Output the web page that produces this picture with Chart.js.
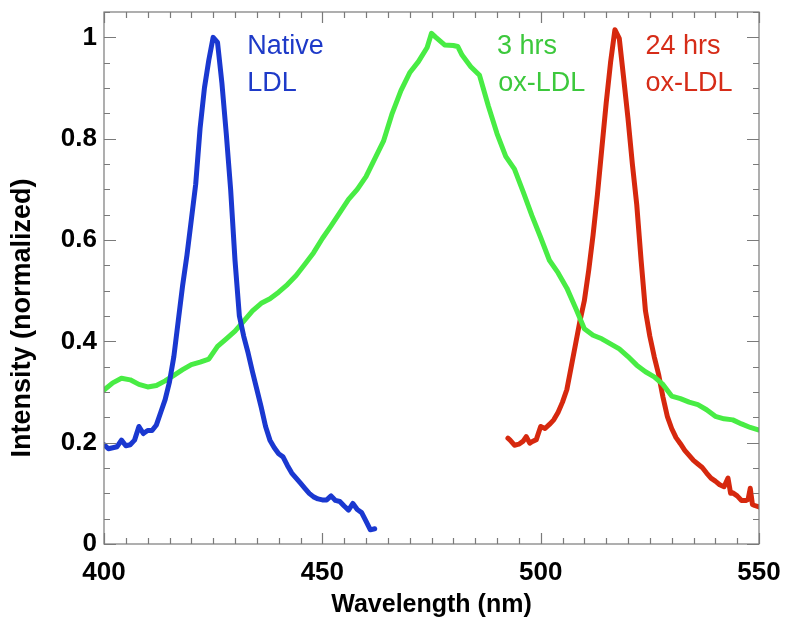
<!DOCTYPE html>
<html>
<head>
<meta charset="utf-8">
<script src="https://cdn.jsdelivr.net/npm/chart.js@4.4.1/dist/chart.umd.min.js"></script>
<style>
  body { margin: 0; background: #fff; }
  #wrap { width: 787px; height: 634px; }
</style>
</head>
<body>
<div id="wrap"><canvas id="spectraChart"></canvas></div>
<script>
// Native LDL
const nativeNm = [400, 401, 402, 403, 404, 405, 406, 407, 408, 409, 410, 411, 412, 413, 414, 415, 416, 417, 418, 419,
  420, 421, 422, 423, 424, 425, 426, 427, 428, 429, 430, 431, 432, 433, 434, 435, 436, 437, 438, 439,
  440, 441, 442, 443, 444, 445, 446, 447, 448, 449, 450, 451, 452, 453, 454, 455, 456, 457, 458, 459,
  460, 461, 462];
const nativeInt = [0.196, 0.188, 0.19, 0.192, 0.205, 0.194, 0.196, 0.205, 0.232, 0.218, 0.224, 0.224, 0.235, 0.26, 0.285, 0.32, 0.37, 0.44, 0.51, 0.57,
  0.64, 0.71, 0.82, 0.9, 0.955, 1.0, 0.99, 0.91, 0.81, 0.7, 0.56, 0.45, 0.41, 0.377, 0.34, 0.305, 0.27, 0.232, 0.205, 0.19,
  0.178, 0.172, 0.155, 0.14, 0.13, 0.12, 0.11, 0.1, 0.093, 0.089, 0.087, 0.087, 0.095, 0.086, 0.084, 0.075, 0.067, 0.08, 0.068, 0.062,
  0.045, 0.028, 0.03];

// 3 hrs ox-LDL
const ox3Nm = [400, 402, 404, 406, 408, 410, 412, 414, 416, 418, 420, 422, 424, 426, 428, 430, 432, 434, 436, 438,
  440, 442, 444, 446, 448, 450, 452, 454, 456, 458, 460, 462, 464, 466, 468, 470, 472, 474, 475, 476,
  478, 480, 481, 482, 484, 486, 488, 490, 492, 494, 496, 498, 500, 502, 504, 506, 508, 510, 512, 514,
  516, 518, 520, 522, 524, 526, 528, 530, 532, 534, 536, 538, 540, 542, 544, 546, 548, 550];
const ox3Int = [0.304, 0.318, 0.327, 0.324, 0.315, 0.31, 0.313, 0.322, 0.333, 0.344, 0.354, 0.359, 0.365, 0.39, 0.405, 0.42, 0.44, 0.46, 0.475, 0.484,
  0.497, 0.512, 0.53, 0.552, 0.575, 0.603, 0.628, 0.654, 0.68, 0.7, 0.725, 0.76, 0.795, 0.85, 0.895, 0.93, 0.952, 0.98, 1.008, 1.0,
  0.985, 0.984, 0.982, 0.965, 0.942, 0.925, 0.865, 0.81, 0.765, 0.74, 0.695, 0.648, 0.605, 0.56, 0.535, 0.505, 0.466, 0.425, 0.412, 0.405,
  0.395, 0.385, 0.37, 0.353, 0.34, 0.33, 0.315, 0.292, 0.287, 0.28, 0.275, 0.265, 0.252, 0.247, 0.245, 0.237, 0.23, 0.225];

// 24 hrs ox-LDL
const ox24Nm = [492.5, 493, 494, 495, 496, 496.7, 497.5, 498, 499, 500, 501, 502, 503, 504, 505, 506, 507, 508, 509, 510,
  511, 512, 513, 514, 515, 516, 517, 518, 519, 520, 521, 522, 523, 524, 525, 526, 527, 528, 529, 530,
  531, 532, 533, 534, 535, 536, 537, 538, 539, 540, 541, 542, 542.9, 543.5, 544, 545, 546, 547, 547.5, 548,
  548.5, 549, 550];
const ox24Int = [0.209, 0.205, 0.195, 0.197, 0.203, 0.212, 0.199, 0.202, 0.206, 0.232, 0.228, 0.236, 0.245, 0.26, 0.28, 0.305, 0.35, 0.395, 0.44, 0.48,
  0.54, 0.61, 0.69, 0.78, 0.87, 0.95, 1.015, 0.998, 0.92, 0.84, 0.75, 0.67, 0.56, 0.46, 0.41, 0.37, 0.335, 0.29, 0.252, 0.228,
  0.21, 0.198, 0.185, 0.175, 0.165, 0.158, 0.151, 0.14, 0.13, 0.124, 0.117, 0.113, 0.13, 0.1, 0.101, 0.095, 0.086, 0.086, 0.088, 0.11,
  0.078, 0.076, 0.073];

const yTickLabels = ['0', '0.2', '0.4', '0.6', '0.8', '1'];

const BLUE = 'rgb(26, 56, 208)';
const GREEN = 'rgb(72, 236, 68)';
const RED = 'rgb(214, 40, 14)';
const FONT = '"Liberation Sans", Arial, sans-serif';

function toPoints(xs, ys) {
    return xs.map((x, i) => ({ x: x, y: ys[i] }));
}

// curve labels, placed in data coordinates
const curveLabels = [
    { text: 'Native', x: 432.8, y: 0.967, color: 'rgb(30, 58, 200)' },
    { text: 'LDL', x: 432.8, y: 0.895, color: 'rgb(30, 58, 200)' },
    { text: '3 hrs', x: 490.0, y: 0.967, color: 'rgb(60, 200, 60)' },
    { text: 'ox-LDL', x: 490.3, y: 0.895, color: 'rgb(60, 200, 60)' },
    { text: '24 hrs', x: 524.0, y: 0.967, color: 'rgb(214, 44, 24)' },
    { text: 'ox-LDL', x: 524.0, y: 0.895, color: 'rgb(214, 44, 24)' }
];

// frame, inner ticks on all four sides, curve labels and y title
const framePlugin = {
    id: 'frame',
    afterDatasetsDraw(chart) {
        const ctx = chart.ctx;
        const xs = chart.scales.x, ys = chart.scales.y;
        const a = chart.chartArea;
        ctx.save();
        ctx.strokeStyle = '#7a7a7a';
        ctx.lineWidth = 1.2;
        ctx.strokeRect(a.left, a.top, a.right - a.left, a.bottom - a.top);

        ctx.beginPath();
        for (let v = 400; v <= 550; v += 5) {
            const px = Math.round(xs.getPixelForValue(v)) + 0.5;
            const len = v % 50 === 0 ? 11 : 6;
            ctx.moveTo(px, a.bottom); ctx.lineTo(px, a.bottom - len);
            ctx.moveTo(px, a.top); ctx.lineTo(px, a.top + len);
        }
        for (let i = 0; i <= 21; i++) {
            const v = i * 0.05;
            const py = Math.round(ys.getPixelForValue(v)) + 0.5;
            const len = i % 4 === 0 ? 12 : 6;
            ctx.moveTo(a.left, py); ctx.lineTo(a.left + len, py);
            ctx.moveTo(a.right, py); ctx.lineTo(a.right - len, py);
        }
        ctx.stroke();

        ctx.font = '27px ' + FONT;
        ctx.textBaseline = 'alphabetic';
        ctx.textAlign = 'left';
        curveLabels.forEach(l => {
            ctx.fillStyle = l.color;
            ctx.fillText(l.text, xs.getPixelForValue(l.x), ys.getPixelForValue(l.y));
        });

        ctx.fillStyle = '#000';
        ctx.font = 'bold 27px ' + FONT;
        ctx.translate(23, 318);
        ctx.rotate(-Math.PI / 2);
        ctx.textAlign = 'center';
        ctx.textBaseline = 'middle';
        ctx.fillText('Intensity (normalized)', 0, 0);
        ctx.restore();
    }
};

const ctx = document.getElementById('spectraChart').getContext('2d');
const spectraChart = new Chart(ctx, {
    type: 'line',
    data: {
        datasets: [
            {
                label: 'Native LDL',
                data: toPoints(nativeNm, nativeInt),
                borderColor: BLUE,
                borderWidth: 5
            },
            {
                label: '3 hrs ox-LDL',
                data: toPoints(ox3Nm, ox3Int),
                borderColor: GREEN,
                borderWidth: 5
            },
            {
                label: '24 hrs ox-LDL',
                data: toPoints(ox24Nm, ox24Int),
                borderColor: RED,
                borderWidth: 5
            }
        ]
    },
    options: {
        responsive: true,
        maintainAspectRatio: false,
        animation: false,
        elements: {
            point: { radius: 0 },
            line: { tension: 0, borderJoinStyle: 'round', borderCapStyle: 'round' }
        },
        layout: { padding: { top: 12, right: 28, left: 0, bottom: 0 } },
        plugins: {
            legend: { display: false },
            tooltip: { enabled: false }
        },
        scales: {
            x: {
                type: 'linear',
                min: 400,
                max: 550,
                afterFit: s => { s.height = 90; s.paddingLeft = 0; s.paddingRight = 0; },
                grid: { display: false, drawTicks: false },
                border: { display: false },
                ticks: {
                    stepSize: 50,
                    padding: 13,
                    color: '#000',
                    font: { family: FONT, size: 26, weight: 'bold' }
                },
                title: {
                    display: true,
                    text: 'Wavelength (nm)',
                    color: '#000',
                    font: { family: FONT, size: 25, weight: 'bold' },
                    padding: { top: 0, bottom: 14 }
                }
            },
            y: {
                min: 0,
                max: 1.05,
                afterFit: s => { s.width = 104; s.paddingTop = 0; s.paddingBottom = 0; },
                grid: { display: false, drawTicks: false },
                border: { display: false },
                ticks: {
                    stepSize: 0.2,
                    includeBounds: false,
                    padding: 7,
                    color: '#000',
                    font: { family: FONT, size: 26, weight: 'bold' },
                    callback: (v) => yTickLabels[Math.round(v / 0.2)]
                }
            }
        }
    },
    plugins: [framePlugin]
});
</script>
</body>
</html>
